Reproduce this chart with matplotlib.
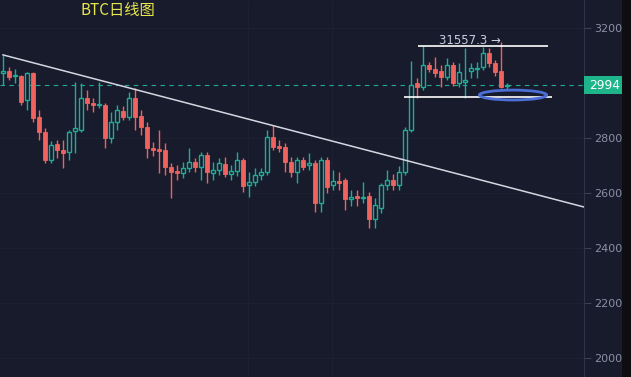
import matplotlib
matplotlib.use("Agg")
import matplotlib.pyplot as plt
from matplotlib.patches import Ellipse, Rectangle
import matplotlib.transforms as mtransforms
import numpy as np

# daily candles
opens = [3038, 3045, 3027, 3027, 2940, 3038, 2878, 2824, 2722, 2780,
         2758, 2751, 2827, 2831, 2947, 2929, 2922, 2922, 2802, 2860,
         2900, 2878, 2947, 2882, 2842, 2765, 2762, 2758, 2696, 2682,
         2675, 2693, 2715, 2696, 2740, 2675, 2685, 2707, 2671, 2682,
         2722, 2631, 2642, 2667, 2678, 2805, 2773, 2769, 2715, 2678,
         2722, 2704, 2711, 2565, 2722, 2631, 2645, 2649, 2580, 2591,
         2584, 2591, 2507, 2547, 2631, 2649, 2631, 2678, 2831, 3002,
         2987, 3067, 3053, 3045, 3024, 3067, 3002, 3005, 3045, 3053,
         3060, 3111, 3075, 3045, 2990]
highs = [3104, 3060, 3053, 3031, 3042, 3042, 2904, 2838, 2791, 2795,
         2795, 2831, 3005, 3002, 2976, 2947, 3005, 2929, 2896, 2922,
         2918, 2969, 2984, 2904, 2860, 2787, 2831, 2784, 2711, 2704,
         2715, 2765, 2729, 2751, 2751, 2715, 2729, 2733, 2704, 2751,
         2729, 2678, 2693, 2693, 2831, 2849, 2795, 2784, 2733, 2733,
         2733, 2747, 2722, 2733, 2733, 2685, 2678, 2656, 2613, 2613,
         2642, 2605, 2584, 2638, 2685, 2671, 2700, 2842, 3082, 3020,
         3136, 3078, 3096, 3067, 3093, 3078, 3075, 3129, 3075, 3078,
         3133, 3129, 3085, 3151, 3002]
lows = [2994, 3013, 3002, 2922, 2904, 2860, 2795, 2711, 2711, 2729,
        2693, 2722, 2747, 2824, 2904, 2896, 2911, 2765, 2784, 2831,
        2867, 2867, 2831, 2813, 2729, 2736, 2675, 2667, 2584, 2649,
        2656, 2678, 2678, 2649, 2638, 2649, 2667, 2660, 2649, 2664,
        2605, 2587, 2627, 2649, 2667, 2758, 2751, 2678, 2660, 2638,
        2685, 2685, 2533, 2533, 2602, 2613, 2613, 2540, 2555, 2555,
        2565, 2475, 2475, 2529, 2613, 2613, 2613, 2667, 2824, 2947,
        2976, 3042, 3024, 2987, 3013, 2991, 2987, 2947, 3020, 3020,
        3049, 3060, 3027, 2984, 2980]
closes = [3046, 3024, 3031, 2933, 3038, 2875, 2824, 2722, 2776, 2758,
          2747, 2824, 2838, 2947, 2929, 2922, 2926, 2802, 2860, 2904,
          2878, 2947, 2878, 2842, 2765, 2758, 2755, 2696, 2678, 2675,
          2693, 2715, 2696, 2740, 2678, 2685, 2711, 2671, 2682, 2722,
          2627, 2642, 2667, 2678, 2805, 2769, 2765, 2715, 2678, 2722,
          2696, 2711, 2565, 2722, 2624, 2645, 2638, 2580, 2587, 2584,
          2587, 2507, 2558, 2631, 2649, 2631, 2678, 2831, 2995, 2987,
          3067, 3053, 3038, 3024, 3067, 3002, 3042, 3013, 3056, 3056,
          3111, 3075, 3042, 2987, 2994]

last_price = 2994
trend_x = [0, 96.8]
trend_y = [3104, 2551]
range_top = 3136
range_bottom = 2951
top_label = "31557.3 →"
price_ticks = [2000, 2200, 2400, 2600, 2800, 3200]

bg = "#181b2c"
up_col = "#22ab94"
down_col = "#ef625d"

fig = plt.figure(figsize=(6.31, 3.77), dpi=100)
fig.patch.set_facecolor(bg)
# dark strip at the far right
fig.patches.append(Rectangle((622 / 631, 0), 9 / 631, 1, transform=fig.transFigure,
                             facecolor="#0e0e11", edgecolor="none", zorder=-1))
ax = fig.add_axes([0, 0, 584 / 631, 1])
ax.set_facecolor(bg)
ax.set_zorder(2)

x = np.arange(len(opens))
o = np.array(opens)
c = np.array(closes)
up = c >= o
cols = np.where(up, up_col, down_col)

ax.vlines(x, lows, highs, colors=cols, linewidth=1, zorder=2)
body_lo = np.minimum(o, c)
body_h = np.maximum(np.abs(c - o), 4)
ax.bar(x[~up], body_h[~up], bottom=body_lo[~up], width=0.65,
       color=down_col, edgecolor=down_col, linewidth=0.6, zorder=3)
ax.bar(x[up], body_h[up], bottom=body_lo[up], width=0.58,
       facecolor=bg, edgecolor=up_col, linewidth=1, zorder=3)

# trend line and range lines
ax.plot(trend_x, trend_y, color="#d4d6e0", linewidth=1.1, zorder=4)
ax.hlines(range_top, 69.2, 90.8, color="white", linewidth=1.2, zorder=4)
ax.hlines(range_bottom, 66.8, 91.5, color="white", linewidth=1.2, zorder=4)
ax.text(77.8, 3158, top_label, color="#c9cce0", fontsize=8.5,
        ha="center", va="center", zorder=5)
ax.add_patch(Ellipse((85, 2958), 11.2, 36, fill=False, edgecolor="#4b6fd6",
                     linewidth=2, zorder=5))

# last price line + label
ax.axhline(last_price, color=up_col, linewidth=0.8, dashes=(4, 4), zorder=1)
trans = mtransforms.blended_transform_factory(ax.transAxes, ax.transData)
ax.add_patch(Rectangle((1.0, last_price - 33), 38 / 584, 66, transform=trans,
                       facecolor="#1fb58a", edgecolor="none", clip_on=False, zorder=10))
ax.text(1.0 + 21 / 584, last_price, str(last_price), transform=trans, color="white",
        fontsize=8.8, ha="center", va="center", clip_on=False, zorder=11)

ax.set_xlim(-0.5, 96.83)
ax.set_ylim(1932.7, 3303.6)
ax.yaxis.tick_right()
ax.set_yticks(price_ticks)
ax.tick_params(axis="y", colors="#3a3f55", labelcolor="#8b90a6", labelsize=8,
               length=5, width=0.8, pad=2)
ax.set_xticks([])
for s in ["top", "left", "bottom"]:
    ax.spines[s].set_visible(False)
ax.spines["right"].set_color("#2e3347")
ax.grid(axis="y", color="#1d2133", linewidth=0.6)
for gx in [40.8, 54.8]:
    ax.axvline(gx, color="#1d2133", linewidth=0.6, zorder=0)

fig.text(80 / 631, 1 - 10 / 377, "BTC日线图", color="#e8e84e", fontsize=11,
         family=["Noto Sans CJK SC", "DejaVu Sans"], ha="left", va="center")

fig.savefig("out.png", dpi=100, facecolor=fig.get_facecolor())
